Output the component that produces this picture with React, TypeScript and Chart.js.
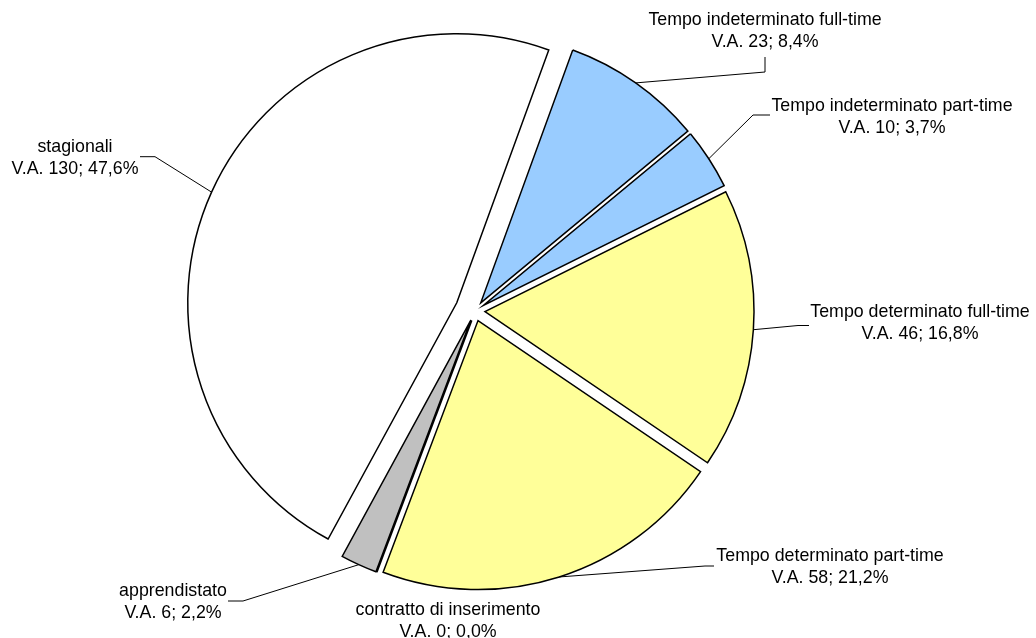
import React, { useEffect, useRef } from 'react';
import { Chart, registerables } from 'chart.js';

Chart.register(...registerables);

// ---- data ----
const categories = [
  'Tempo indeterminato full-time',
  'Tempo indeterminato part-time',
  'Tempo determinato full-time',
  'Tempo determinato part-time',
  'contratto di inserimento',
  'apprendistato',
  'stagionali',
];
const values = [23, 10, 46, 58, 0, 6, 130];

// ---- styles / layout ----
const sliceColors = ['#99CCFF', '#99CCFF', '#FFFF99', '#FFFF99', '#FFFFFF', '#C0C0C0', '#FFFFFF'];
const explodeOffsets = [10, 10, 10, 10, 10, 10, 20];
// label text centre and leader-line bend points (from slice edge towards label)
const labelLayout: { x: number; y: number; leader: [number, number][] }[] = [
  { x: 765, y: 31, leader: [[765, 72], [765, 57]] },
  { x: 892, y: 117.5, leader: [[753, 115], [770, 115]] },
  { x: 920, y: 323.4, leader: [[798, 325.5], [809, 325.5]] },
  { x: 830, y: 567, leader: [[705, 566], [714, 566]] },
  { x: 448, y: 621, leader: [] },
  { x: 173, y: 602.4, leader: [[243, 601], [228, 601]] },
  { x: 75, y: 158, leader: [[155, 156.7], [140, 156.7]] },
];

const total = values.reduce((a, b) => a + b, 0);
const pctText = (v: number) => (total ? (v / total) * 100 : 0).toFixed(1).replace('.', ',') + '%';

const explodedPiePlugin = {
  id: 'explodedPie',
  beforeDatasetsDraw(chart: any) {
    const ctx = chart.ctx as CanvasRenderingContext2D;
    const meta = chart.getDatasetMeta(0);
    meta.data.forEach((el: any, i: number) => {
      const p = el.getProps(['x', 'y', 'startAngle', 'endAngle', 'outerRadius'], true);
      const mid = (p.startAngle + p.endAngle) / 2;
      const d = explodeOffsets[i] || 0;
      ctx.save();
      ctx.translate(Math.cos(mid) * d, Math.sin(mid) * d);
      if (p.endAngle - p.startAngle <= 0) {
        ctx.beginPath();
        ctx.moveTo(p.x, p.y);
        ctx.lineTo(p.x + Math.cos(mid) * p.outerRadius, p.y + Math.sin(mid) * p.outerRadius);
        ctx.lineWidth = 2.2;
        ctx.strokeStyle = '#000';
        ctx.stroke();
      } else {
        el.draw(ctx);
      }
      ctx.restore();
    });
    return false;
  },
  afterDraw(chart: any) {
    const ctx = chart.ctx as CanvasRenderingContext2D;
    const meta = chart.getDatasetMeta(0);
    ctx.save();
    ctx.font = '17.8px "Liberation Sans", Arial, sans-serif';
    ctx.fillStyle = '#000';
    ctx.textAlign = 'center';
    ctx.textBaseline = 'middle';
    meta.data.forEach((el: any, i: number) => {
      const lay = labelLayout[i];
      if (!lay) return;
      const p = el.getProps(['x', 'y', 'startAngle', 'endAngle', 'outerRadius'], true);
      const mid = (p.startAngle + p.endAngle) / 2;
      const d = explodeOffsets[i] || 0;
      if (lay.leader.length) {
        const r = p.outerRadius + d;
        ctx.beginPath();
        ctx.moveTo(p.x + Math.cos(mid) * r, p.y + Math.sin(mid) * r);
        lay.leader.forEach(([lx, ly]) => ctx.lineTo(lx, ly));
        ctx.lineWidth = 1;
        ctx.strokeStyle = '#000';
        ctx.stroke();
      }
      ctx.fillText(categories[i], lay.x, lay.y - 11);
      ctx.fillText(`V.A. ${values[i]}; ${pctText(values[i])}`, lay.x, lay.y + 11);
    });
    ctx.restore();
  },
};

export default function App() {
  const canvasRef = useRef<HTMLCanvasElement | null>(null);

  useEffect(() => {
    if (!canvasRef.current) return;
    const chart = new Chart(canvasRef.current, {
      type: 'pie',
      data: {
        labels: categories,
        datasets: [
          {
            data: values,
            backgroundColor: sliceColors,
            borderColor: '#000000',
            borderWidth: 1.5,
            hoverBorderWidth: 1.5,
            hoverOffset: 0,
            offset: 0,
            borderJoinStyle: 'miter',
          } as any,
        ],
      },
      options: {
        responsive: false,
        animation: false,
        events: [],
        rotation: 20,
        radius: 269,
        layout: { padding: { left: 0, right: 86, top: 0, bottom: 16 } },
        plugins: {
          legend: { display: false },
          tooltip: { enabled: false },
          title: { display: false },
        },
      } as any,
      plugins: [explodedPiePlugin as any],
    });
    return () => chart.destroy();
  }, []);

  return (
    <div style={{ position: 'fixed', left: 0, top: 0, width: 1036, height: 638, background: '#fff' }}>
      <canvas ref={canvasRef} width={1036} height={638} style={{ display: 'block' }} />
    </div>
  );
}
